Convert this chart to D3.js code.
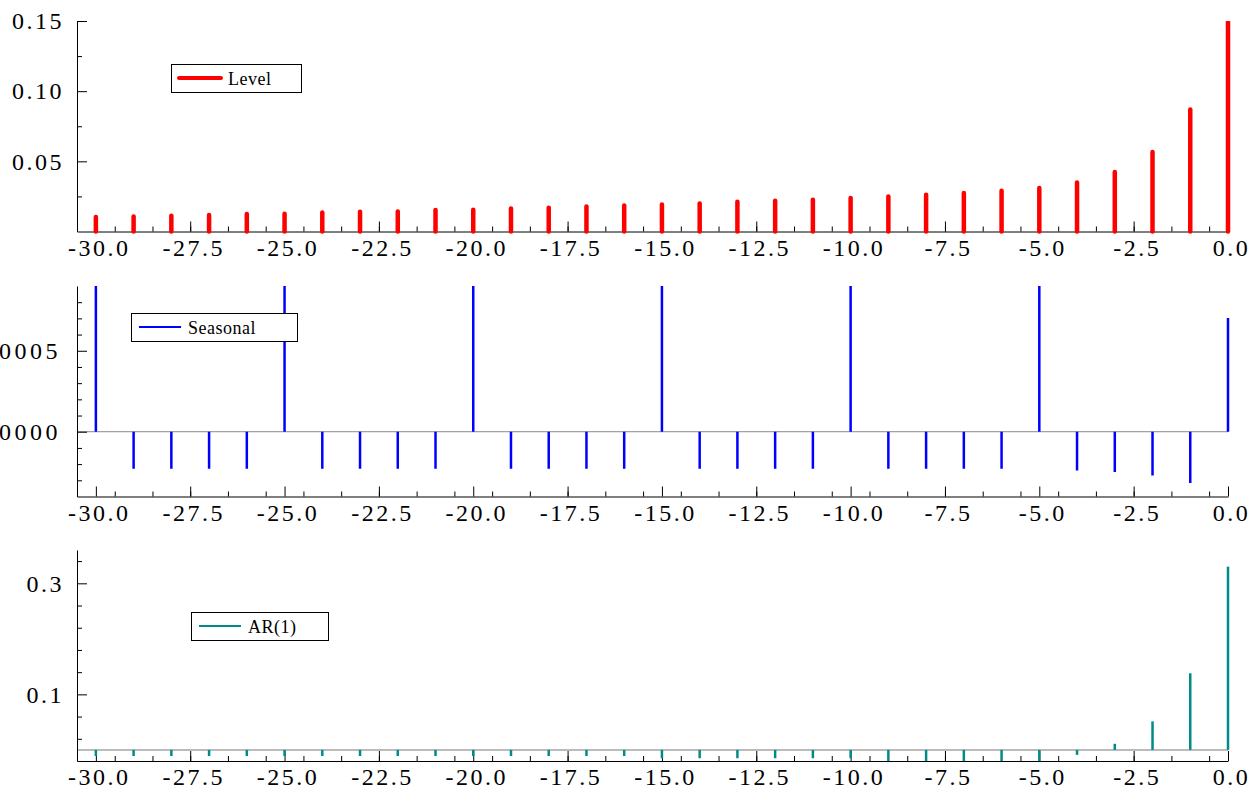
<!DOCTYPE html>
<html>
<head>
<meta charset="utf-8">
<script src="https://cdn.jsdelivr.net/npm/d3@7"></script>
<style>
  body { margin: 0; background: #fff; }
  svg { display: block; }
  .tick text, .lab { font-family: "Liberation Serif", "Times New Roman", serif; }
</style>
</head>
<body>
<svg id="chart" width="1259" height="789"></svg>
<script>
const lags = [-30, -29, -28, -27, -26, -25, -24, -23, -22, -21, -20, -19, -18, -17, -16, -15,
  -14, -13, -12, -11, -10, -9, -8, -7, -6, -5, -4, -3, -2, -1, 0]

const levelValues = [0.0103, 0.0107, 0.0112, 0.0117, 0.0124, 0.0126, 0.0136, 0.0141, 0.0143, 0.0153,
  0.0155, 0.0164, 0.0169, 0.0179, 0.0186, 0.0193, 0.0200, 0.0212, 0.0219, 0.0226,
  0.0238, 0.0250, 0.0262, 0.0274, 0.0290, 0.0310, 0.0350, 0.0424, 0.0567, 0.0869, 0.1496]

const seasonalValues = [0.0009, -0.000229, -0.000229, -0.000229, -0.000229,
  0.0009, -0.000229, -0.000229, -0.000229, -0.000229,
  0.0009, -0.000229, -0.000229, -0.000229, -0.000229,
  0.0009, -0.000229, -0.000229, -0.000229, -0.000229,
  0.0009, -0.000229, -0.000229, -0.000229, -0.000229,
  0.0009, -0.00024, -0.000248, -0.00027, -0.000316, 0.000703]

const arValues = [-0.011, -0.011, -0.011, -0.011, -0.011, -0.011, -0.011, -0.011, -0.011, -0.011,
  -0.011, -0.011, -0.011, -0.011, -0.011, -0.015, -0.015, -0.015, -0.015, -0.015,
  -0.015, -0.02, -0.02, -0.02, -0.02, -0.02, -0.009, 0.011, 0.0514, 0.138, 0.33]

const xMajor = [-30, -27.5, -25, -22.5, -20, -17.5, -15, -12.5, -10, -7.5, -5, -2.5, 0]
const xMinor = [-29.5, -28.5, -27.5, -26.5, -25.5, -24.5, -23.5, -22.5, -21.5, -20.5, -19.5, -18.5,
  -17.5, -16.5, -15.5, -14.5, -13.5, -12.5, -11.5, -10.5, -9.5, -8.5, -7.5, -6.5, -5.5, -4.5,
  -3.5, -2.5, -1.5, -0.5]

const panels = [
  { name: "Level", values: levelValues, color: "#ff0000", width: 4.5, cap: "round",
    domain: [0, 0.15], range: [231.5, 21],
    yMajor: [0.05, 0.10, 0.15], yMinor: [0.025, 0.075, 0.125], fmt: ".2f",
    legend: { x: 171, y: 64, w: 130, h: 28 }, zeroLine: false },
  { name: "Seasonal", values: seasonalValues, color: "#0000ff", width: 2.5, cap: "butt",
    domain: [-0.0004, 0.0009], range: [496.5, 286],
    yMajor: [0, 0.0005], yMinor: [-0.0003, -0.0002, -0.0001, 0.0001, 0.0002, 0.0003, 0.0004, 0.0006, 0.0007, 0.0008], fmt: ".4f",
    legend: { x: 131, y: 313, w: 166, h: 28 }, zeroLine: "#888" },
  { name: "AR(1)", values: arValues, color: "#008b8b", width: 2.5, cap: "butt",
    domain: [-0.02, 0.36], range: [761, 550],
    yMajor: [0.1, 0.3], yMinor: [0.02, 0.06, 0.14, 0.18, 0.22, 0.26, 0.34], fmt: ".1f",
    legend: { x: 191, y: 612, w: 137, h: 28 }, zeroLine: "#bbb" }
]

const svg = d3.select("#chart")

const x = d3.scaleLinear()
  .domain([-30.5, 0])
  .range([77, 1228])

panels.forEach((p, i) => {
  const y = d3.scaleLinear().domain(p.domain).range(p.range)
  const g = svg.append("g").attr("class", "panel")

  svg.append("clipPath").attr("id", "clip" + i)
    .append("rect")
      .attr("x", x.range()[0]).attr("y", p.range[1])
      .attr("width", x.range()[1] - x.range()[0] + 4)
      .attr("height", p.range[0] - p.range[1] + 3)

  if (p.zeroLine) {
    g.append("line")
      .attr("x1", x.range()[0]).attr("x2", x.range()[1])
      .attr("y1", y(0)).attr("y2", y(0))
      .attr("stroke", p.zeroLine)
      .attr("stroke-width", i == 2 ? 2 : 1)
  }

  // x axis, minor then major
  g.append("g")
    .attr("transform", "translate(0," + p.range[0] + ")")
    .call(d3.axisBottom(x)
      .tickValues(xMinor)
      .tickSize(-5)
      .tickFormat(""))
    .select(".domain").remove()
  const xMaj = g.append("g")
    .attr("transform", "translate(0," + p.range[0] + ")")
    .call(d3.axisBottom(x)
      .tickValues(xMajor)
      .tickSize(-10)
      .tickSizeOuter(0)
      .tickPadding(7)
      .tickFormat(d3.format(".1f")))
  xMaj.selectAll(".tick text")
    .attr("font-size", 24)
    .attr("letter-spacing", "2.5px")
    .attr("dx", "3px")
    .text(d => d3.format(".1f")(d).replace("−", "-"))

  // y axis
  g.append("g")
    .attr("transform", "translate(" + x.range()[0] + ",0)")
    .call(d3.axisLeft(y)
      .tickValues(p.yMinor)
      .tickSize(-5)
      .tickFormat(""))
    .select(".domain").remove()
  const yMaj = g.append("g")
    .attr("transform", "translate(" + x.range()[0] + ",0)")
    .call(d3.axisLeft(y)
      .tickValues(p.yMajor)
      .tickSize(-10)
      .tickSizeOuter(0)
      .tickPadding(i == 1 ? 16 : 13)
      .tickFormat(d3.format(p.fmt)))
  yMaj.selectAll(".tick text")
    .attr("font-size", 24)
    .attr("letter-spacing", i == 1 ? "3.5px" : "2.5px")

  g.selectAll(".domain").attr("stroke", "#000")
  g.selectAll(".tick line").attr("stroke", "#000")

  // stems drawn over the ticks
  g.append("g").attr("clip-path", "url(#clip" + i + ")")
    .selectAll("line")
    .data(lags.map((l, k) => [l, p.values[k]]))
    .enter().append("line")
      .attr("x1", d => x(d[0])).attr("x2", d => x(d[0]))
      .attr("y1", y(0)).attr("y2", d => y(d[1]))
      .attr("stroke", p.color)
      .attr("stroke-width", p.width)
      .attr("stroke-linecap", p.cap)

  // legend
  const lg = g.append("g").attr("transform", "translate(" + p.legend.x + "," + p.legend.y + ")")
  lg.append("rect")
    .attr("x", 0.5).attr("y", 0.5)
    .attr("width", p.legend.w).attr("height", p.legend.h)
    .attr("fill", "#fff").attr("stroke", "#000")
  lg.append("line")
    .attr("x1", 8).attr("x2", 50)
    .attr("y1", 14).attr("y2", 14)
    .attr("stroke", p.color)
    .attr("stroke-width", i == 0 ? 4 : 2)
    .attr("stroke-linecap", p.cap)
  lg.append("text")
    .attr("class", "lab")
    .attr("x", 57).attr("y", 21)
    .attr("font-size", 18)
    .attr("letter-spacing", "0.5px")
    .text(p.name)
})
</script>
</body>
</html>
